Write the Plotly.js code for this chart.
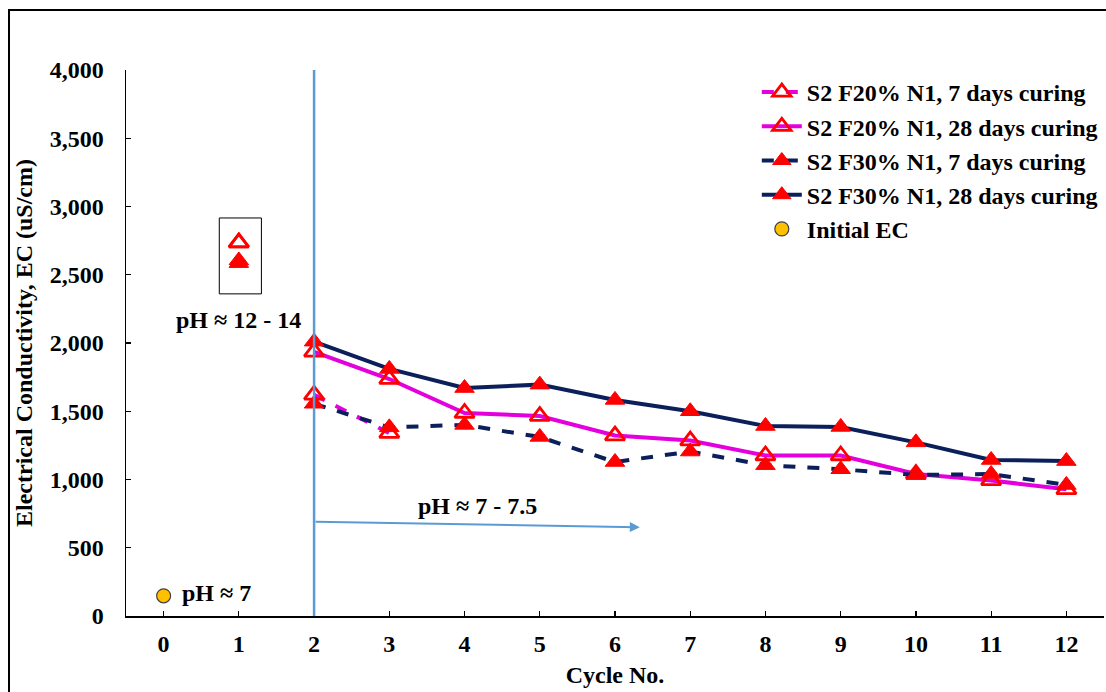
<!DOCTYPE html>
<html>
<head>
<meta charset="utf-8">
<script src="https://cdn.plot.ly/plotly-3.0.1.min.js"></script>
<style>
  html, body { margin: 0; padding: 0; background: #fff; }
  #frame { position: absolute; left: 8px; top: 9px; width: 1200px; height: 800px;
           border-left: 2px solid #000; border-top: 2px solid #000; pointer-events: none; }
  #chart { width: 1106px; height: 692px; }
</style>
</head>
<body>
<div id="chart"></div>
<div id="frame"></div>
<script>
// Cycle numbers of the wet-dry sequence (cycles 2-12 measured after the pH drop)
const cycles = [2, 3, 4, 5, 6, 7, 8, 9, 10, 11, 12];
const tickVals = [0, 1, 2, 3, 4, 5, 6, 7, 8, 9, 10, 11, 12];
const yTicks = [0, 500, 1000, 1500, 2000, 2500, 3000, 3500, 4000];

// EC (uS/cm) per series
const f20_7d  = [1620, 1340];
const f20_28d = [1935, 1736, 1487, 1465, 1322, 1285, 1176, 1176, 1040, 993, 928];
const f30_7d  = [1555, 1382, 1400, 1312, 1128, 1205, 1105, 1075, 1033, 1040, 960];
const f30_28d = [2010, 1810, 1670, 1695, 1583, 1500, 1392, 1385, 1272, 1143, 1135];

// Cycle 1 readings (high-pH stage), shown unconnected
const f20_7d_c1 = 2735;
const f20_28d_c1 = 2735;
const f30_7d_c1 = 2605;
const f30_28d_c1 = 2585;

// Initial EC at cycle 0
const initialCycle = [0];
const initialEC = [148];

const MAGENTA = '#E400DC';
const NAVY = '#0B1F5B';
const RED = '#FF0000';
const FONT = 'Liberation Serif, Times New Roman, serif';
const FS = 24;

// Cycle 1 point followed by a gap, then the connected series
function withCycle1(c1, vals) {
  return { x: [1, null].concat(cycles.slice(0, vals.length)), y: [c1, null].concat(vals) };
}

const s1 = withCycle1(f20_7d_c1, f20_7d);
const s2 = withCycle1(f20_28d_c1, f20_28d);
const s3 = withCycle1(f30_7d_c1, f30_7d);
const s4 = withCycle1(f30_28d_c1, f30_28d);

const openTri = { symbol: 'triangle-up-open', size: 17, color: RED, line: { color: RED, width: 2.8 } };
const fullTri = { symbol: 'triangle-up', size: 17, color: RED, line: { color: RED, width: 1 } };

const traces = [
  { name: 'S2 F20% N1, 7 days curing', x: s1.x, y: s1.y, mode: 'lines+markers', connectgaps: false,
    line: { color: MAGENTA, width: 4, dash: 'dash' }, marker: openTri },
  { name: 'S2 F20% N1, 28 days curing', x: s2.x, y: s2.y, mode: 'lines+markers', connectgaps: false,
    line: { color: MAGENTA, width: 4 }, marker: openTri },
  { name: 'S2 F30% N1, 7 days curing', x: s3.x, y: s3.y, mode: 'lines+markers', connectgaps: false,
    line: { color: NAVY, width: 4, dash: 'dash' }, marker: fullTri },
  { name: 'S2 F30% N1, 28 days curing', x: s4.x, y: s4.y, mode: 'lines+markers', connectgaps: false,
    line: { color: NAVY, width: 4 }, marker: fullTri },
  { name: 'Initial EC', x: initialCycle, y: initialEC, mode: 'markers',
    marker: { symbol: 'circle', size: 14, color: '#FFC000', line: { color: '#404040', width: 1.2 } } }
];

const layout = {
  width: 1106, height: 692,
  margin: { l: 126, r: 2, t: 70, b: 76 },
  paper_bgcolor: '#fff', plot_bgcolor: '#fff',
  font: { family: FONT, size: FS, color: '#000' },
  showlegend: true,
  legend: {
    x: 0.645, y: 1.0, xanchor: 'left', yanchor: 'top',
    font: { family: FONT, size: FS, color: '#000', weight: 'bold' },
    tracegroupgap: 0, itemwidth: 40, bgcolor: 'rgba(0,0,0,0)'
  },
  xaxis: {
    range: [-0.5, 12.5], tickvals: tickVals, ticktext: tickVals.map(String),
    showgrid: false, zeroline: false, showline: true, linecolor: '#000', linewidth: 1.5,
    ticks: 'inside', ticklen: 5, tickcolor: '#000', tickwidth: 1.2,
    tickfont: { family: FONT, size: FS, weight: 'bold' }, ticklabelstandoff: 6,
    title: { text: 'Cycle No.', font: { family: FONT, size: FS, weight: 'bold' }, standoff: 10 }
  },
  yaxis: {
    range: [0, 4000], tickvals: yTicks, ticktext: yTicks.map(v => v.toLocaleString('en-US')),
    showgrid: false, zeroline: false, showline: true, linecolor: '#000', linewidth: 1.5,
    ticks: 'inside', ticklen: 5, tickcolor: '#000', tickwidth: 1.2,
    tickfont: { family: FONT, size: FS, weight: 'bold' }, ticklabelstandoff: 16,
    title: { text: 'Electrical Conductivity, EC (uS/cm)', font: { family: FONT, size: FS, weight: 'bold' }, standoff: 10 }
  },
  shapes: [
    // boundary between high-pH and neutral stages
    { type: 'line', xref: 'x', yref: 'y', x0: 2, x1: 2, y0: 0, y1: 4000,
      line: { color: '#5B9BD5', width: 2.5 } },
    // frame round the cycle-1 readings
    { type: 'rect', xref: 'x', yref: 'y', x0: 0.74, x1: 1.3, y0: 2360, y1: 2916,
      line: { color: '#000', width: 1 } }
  ],
  annotations: [
    { x: 6.33, y: 650, ax: 2, ay: 690, axref: 'x', ayref: 'y', xref: 'x', yref: 'y',
      text: '', showarrow: true, arrowhead: 2, arrowsize: 1, arrowwidth: 2, arrowcolor: '#5B9BD5' },
    { x: 1.0, y: 2168, xref: 'x', yref: 'y', text: 'pH ≈ 12 - 14', showarrow: false,
      font: { family: FONT, size: FS, weight: 'bold' } },
    { x: 4.17, y: 805, xref: 'x', yref: 'y', text: 'pH ≈ 7 - 7.5', showarrow: false,
      font: { family: FONT, size: FS, weight: 'bold' } },
    { x: 0.22, y: 168, xref: 'x', yref: 'y', xanchor: 'left', text: 'pH ≈ 7', showarrow: false,
      font: { family: FONT, size: FS, weight: 'bold' } }
  ]
};

Plotly.newPlot('chart', traces, layout, { displayModeBar: false, staticPlot: true });
</script>
</body>
</html>
